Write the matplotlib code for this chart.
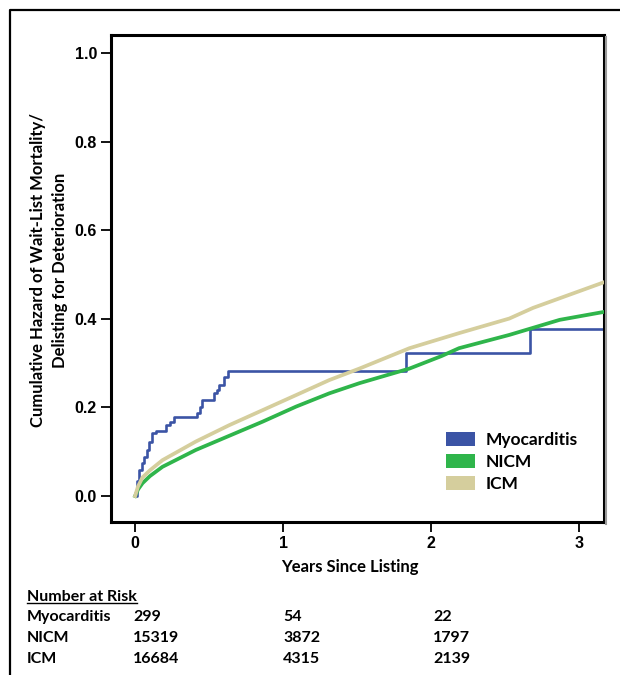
import matplotlib
matplotlib.use("Agg")
import matplotlib.pyplot as plt
from matplotlib.lines import Line2D
from matplotlib.patches import Patch

# cumulative hazard curves
myo_t = [0, 0.01, 0.027, 0.045, 0.061, 0.08, 0.095, 0.117, 0.14, 0.208, 0.235, 0.265,
         0.42, 0.44, 0.455, 0.535, 0.555, 0.57, 0.6, 0.625, 1.83, 2.67, 3.17]
myo_h = [0, 0.035, 0.059, 0.075, 0.089, 0.105, 0.123, 0.142, 0.148, 0.16, 0.167, 0.179,
         0.188, 0.2, 0.217, 0.232, 0.24, 0.25, 0.27, 0.283, 0.322, 0.377, 0.377]

nicm_t = [0, 0.02, 0.05, 0.1, 0.185, 0.41, 0.636, 0.862, 1.088, 1.313, 1.517, 1.855,
          2.07, 2.19, 2.53, 2.87, 3.17]
nicm_h = [0, 0.015, 0.029, 0.045, 0.066, 0.104, 0.136, 0.168, 0.202, 0.232, 0.255, 0.288,
          0.316, 0.334, 0.364, 0.398, 0.416]

icm_t = [0, 0.02, 0.05, 0.1, 0.185, 0.41, 0.636, 0.862, 1.088, 1.313, 1.517, 1.855,
         2.19, 2.53, 2.69, 3.17]
icm_h = [0, 0.022, 0.042, 0.058, 0.081, 0.123, 0.16, 0.194, 0.228, 0.262, 0.288, 0.334,
         0.368, 0.401, 0.425, 0.483]

groups = ["Myocarditis", "NICM", "ICM"]
colors = ["#3b54a5", "#2fb54b", "#d5ce9d"]

# number at risk table
risk_years = [0, 1, 2]
risk = {
    "Myocarditis": [299, 54, 22],
    "NICM": [15319, 3872, 1797],
    "ICM": [16684, 4315, 2139],
}

W, H = 620, 675
fig = plt.figure(figsize=(W / 100, H / 100), dpi=100)
ax = fig.add_axes([111 / W, 1 - 522 / H, (604 - 111) / W, (522 - 35) / H])

ax.step(myo_t, myo_h, where="post", color=colors[0], lw=1.9, zorder=2)
ax.plot(nicm_t, nicm_h, color=colors[1], lw=2.7, zorder=3)
ax.plot(icm_t, icm_h, color=colors[2], lw=2.7, zorder=4)

ax.set_xlim(-0.163, 3.17)
ax.set_ylim(-0.0587, 1.0416)
ax.set_xticks([0, 1, 2, 3])
ax.set_yticks([0.0, 0.2, 0.4, 0.6, 0.8, 1.0])
ax.set_yticklabels(["0.0", "0.2", "0.4", "0.6", "0.8", "1.0"])
ax.tick_params(axis="both", direction="out", length=7, width=1.3, color="black", pad=3)
for lab in ax.get_xticklabels() + ax.get_yticklabels():
    lab.set_fontfamily("Liberation Sans")
    lab.set_fontweight("bold")
    lab.set_fontsize(11.5)
for s in ax.spines.values():
    s.set_linewidth(2.2)
    s.set_color("black")

# grey shadow along the right edge of the plot frame
fig.add_artist(Line2D([606 / W, 606 / W], [1 - 524 / H, 1 - 37 / H],
                      transform=fig.transFigure, color="#9a9a9a", lw=1.5))

calibri = ["Lato", "DejaVu Sans"]
fig.text(350 / W, 1 - 567 / H, "Years Since Listing", ha="center", va="center",
         family=calibri, weight="bold", fontsize=12)
fig.text(49 / W, 1 - 270 / H, "Cumulative Hazard of Wait-List Mortality/\nDelisting for Deterioration",
         rotation=90, ha="center", va="center", family=calibri, weight="bold", fontsize=12,
         linespacing=1.4, multialignment="center")

handles = [Patch(facecolor=c, edgecolor="none", label=g) for g, c in zip(groups, colors)]
ax.legend(handles=handles, loc="upper left", bbox_to_anchor=(0.679, 0.184), frameon=False,
          prop={"family": calibri, "weight": "bold", "size": 12.5},
          handlelength=1.67, handleheight=0.85, handletextpad=0.6, labelspacing=0.33,
          borderpad=0, borderaxespad=0)

# outer frame of the figure panel
fig.add_artist(Line2D([10 / W, 10 / W, 1], [0, 1 - 10 / H, 1 - 10 / H],
                      transform=fig.transFigure, color="black", lw=1.6))

# number at risk table
hdr = fig.text(27 / W, 1 - 597 / H, "Number at Risk", family=calibri, weight="bold",
               fontsize=11.5, va="center")
col_x = [133, 283, 433]
row_y = [617, 638, 659]
for g, y in zip(groups, row_y):
    fig.text(27 / W, 1 - y / H, g, family=calibri, weight="bold", fontsize=11.5, va="center")
    for x, v in zip(col_x, risk[g]):
        fig.text(x / W, 1 - y / H, str(v), family=calibri, weight="bold", fontsize=11.5, va="center")

fig.canvas.draw()
bb = hdr.get_window_extent().transformed(fig.transFigure.inverted())
fig.add_artist(Line2D([bb.x0, bb.x1], [bb.y0 + 0.002, bb.y0 + 0.002],
                      transform=fig.transFigure, color="black", lw=1.0))

fig.savefig("out.png", dpi=100)
